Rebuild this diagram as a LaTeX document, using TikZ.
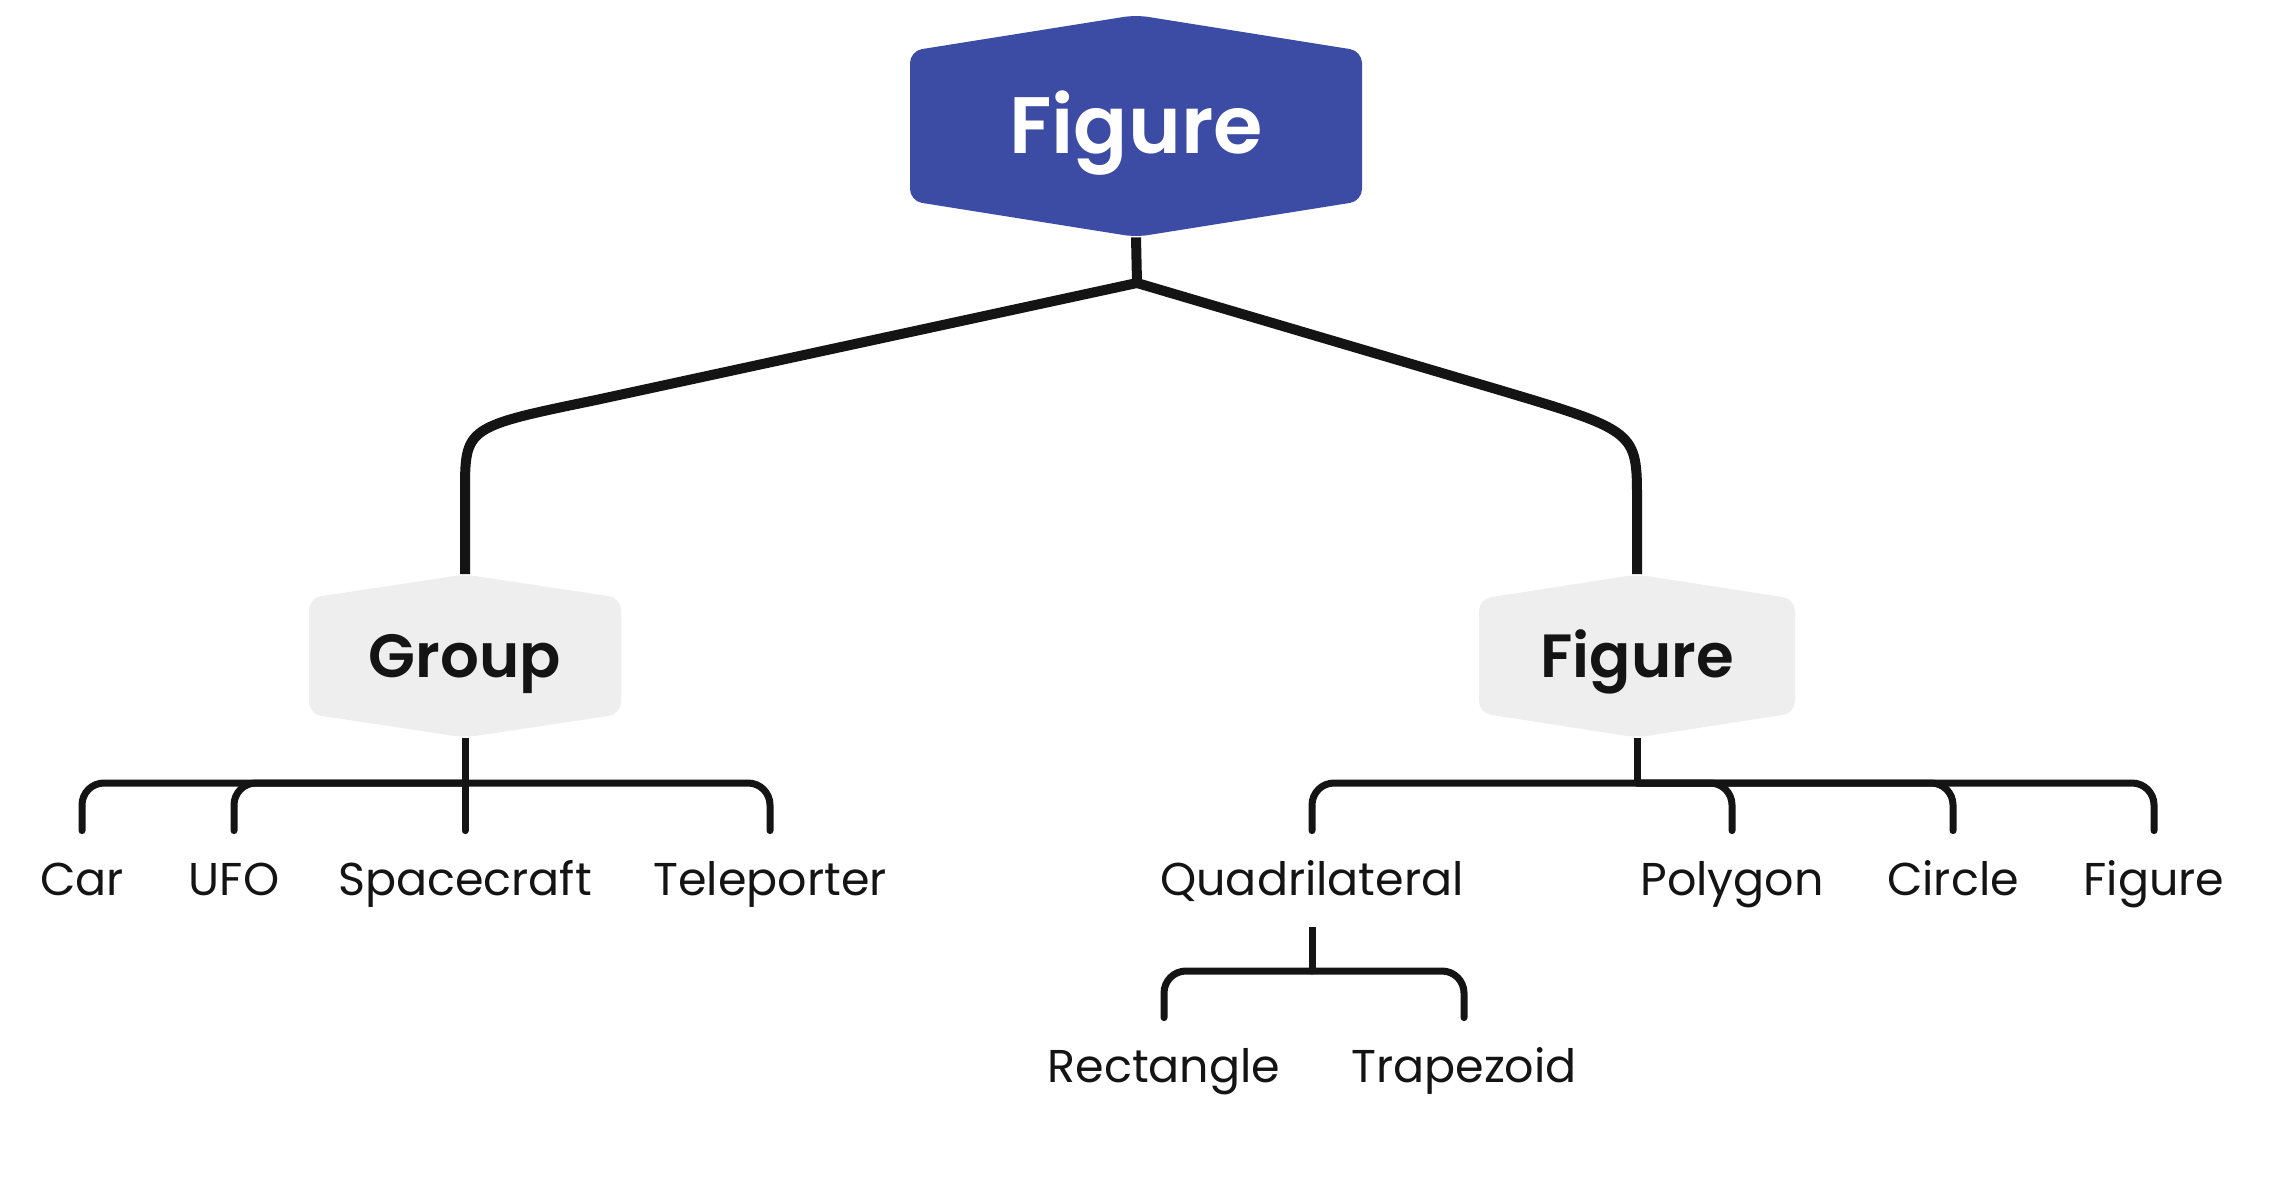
\documentclass[tikz,border=0pt]{standalone}
\usepackage{fontspec}
\setmainfont{Poppins}
\newfontfamily\semib{Poppins SemiBold}
\usetikzlibrary{calc,backgrounds}
\definecolor{rootblue}{HTML}{3C4CA5}
\definecolor{midgray}{HTML}{EEEEEE}
\definecolor{ink}{HTML}{141414}
\tikzset{
  rootnode/.style={inner sep=0pt, minimum width=226pt, minimum height=111pt, text=white,
    font=\fontsize{40}{48}\selectfont\semib, text height=28pt, text depth=0pt},
  midnode/.style={inner sep=0pt, minimum width=157pt, minimum height=81.5pt, text=ink,
    font=\fontsize{30.5}{36}\selectfont\semib, text height=21.5pt, text depth=0pt},
  leaf/.style={anchor=base, inner xsep=0pt, inner ysep=16pt, text height=16pt, text depth=0pt,
    text=ink, font=\fontsize{23}{28}\selectfont},
  trunk/.style={draw=ink, line width=5pt},
  branch/.style={draw=ink, line width=3.5pt, line cap=round, rounded corners=11pt},
  stem/.style={draw=ink, line width=3.5pt},
}
\newcommand{\hexfill}[5]{% node, color, halfwidth, sidehalf, apexhalf
  \fill[#2, rounded corners=6pt] ($(#1)+(0,-#5)$) -- ($(#1)+(#3,-#4)$) -- ($(#1)+(#3,#4)$)
    -- ($(#1)+(0,#5)$) -- ($(#1)+(-#3,#4)$) -- ($(#1)+(-#3,-#4)$) -- cycle;}
\begin{document}
\begin{tikzpicture}[x=0.5pt, y=-0.5pt]
\useasboundingbox (0,0) rectangle (2278,1182);

% main nodes
\node[rootnode] (root) at (1136,126) {Figure};
\node[midnode] (group) at (465,656) {Group};
\node[midnode] (fig2) at (1637,656) {Figure};

\begin{pgfonlayer}{background}
\fill[white] (0,0) rectangle (2278,1182);
\hexfill{root}{rootblue}{226}{75}{111}
\hexfill{group}{midgray}{156}{58}{81.5}
\hexfill{fig2}{midgray}{158}{57}{81.5}
\end{pgfonlayer}

% leaves
\node[leaf] (car) at (82,895) {Car};
\node[leaf] (ufo) at (234,895) {UFO};
\node[leaf] (space) at (465,895) {Spacecraft};
\node[leaf] (tele) at (770,895) {Teleporter};
\node[leaf] (quad) at (1312,895) {Quadrilateral};
\node[leaf] (poly) at (1732,895) {Polygon};
\node[leaf] (circ) at (1953,895) {Circle};
\node[leaf] (fig3) at (2154,895) {Figure};
\node[leaf] (rect) at (1164,1082) {Rectangle};
\node[leaf] (trap) at (1464,1082) {Trapezoid};

% trunk connectors
\coordinate (rj) at (1137,283);
\draw[trunk] (root.south) -- (rj);
\draw[trunk] (rj) -- (596,400) .. controls (465,427) .. (465,493) -- (group.north);
\draw[trunk] (rj) -- (1496,389) .. controls (1637,431) .. (1637,501) -- (fig2.north);

% group children
\coordinate (gj) at (465,783);
\draw[stem] (group.south) -- (gj);
\draw[branch] (gj) -| (car.north);
\draw[branch] (gj) -| (ufo.north);
\draw[branch] (gj) -- (space.north);
\draw[branch] (gj) -| (tele.north);

% figure children
\coordinate (fj) at (1637,783);
\draw[stem] (fig2.south) -- (fj);
\draw[branch] (fj) -| (quad.north);
\draw[branch] (fj) -| (poly.north);
\draw[branch] (fj) -| (circ.north);
\draw[branch] (fj) -| (fig3.north);

% quadrilateral children
\coordinate (qj) at (1312,971);
\draw[stem] (quad.south) -- (qj);
\draw[branch] (qj) -| (rect.north);
\draw[branch] (qj) -| (trap.north);
\end{tikzpicture}
\end{document}
